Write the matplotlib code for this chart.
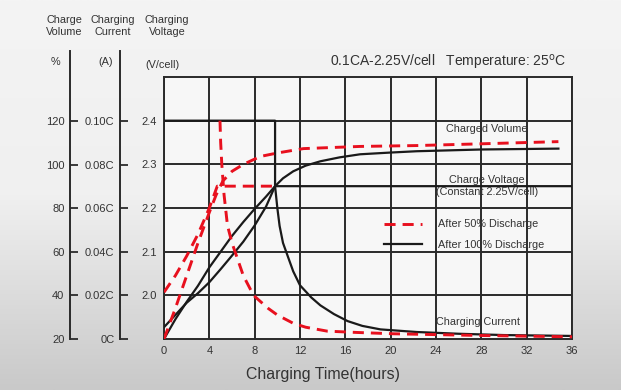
import numpy as np
import matplotlib
matplotlib.use("Agg")
import matplotlib.pyplot as plt
from matplotlib.lines import Line2D

plt.rcParams['font.family'] = ['Liberation Sans', 'DejaVu Sans']

# ---------------- data (voltage-axis units, V/cell) ----------------
hours_ticks = [0, 4, 8, 12, 16, 20, 24, 28, 32, 36]
volt_ticks = [2.0, 2.1, 2.2, 2.3, 2.4]
volume_ticks = [20, 40, 60, 80, 100, 120]
current_ticks = [0.0, 0.02, 0.04, 0.06, 0.08, 0.10]
current_labels = ["0C", "0.02C", "0.04C", "0.06C", "0.08C", "0.10C"]

# After 100% discharge (solid black)
vol100_t = [0, 1, 2, 3, 4, 5, 6, 7, 8, 9, 9.8, 10.5, 11.4, 12.5, 13.8, 15.5, 17.3,
            20, 22.3, 28, 34.8]
vol100_v = [1.90, 1.945, 1.985, 2.022, 2.064, 2.10, 2.136, 2.168, 2.198, 2.226, 2.25,
            2.268, 2.284, 2.297, 2.307, 2.316, 2.323, 2.327, 2.330, 2.334, 2.336]
volt100_t = [0, 1, 2, 3, 4, 5, 6, 7, 8, 9, 9.8, 36]
volt100_v = [1.927, 1.955, 1.983, 2.005, 2.03, 2.06, 2.091, 2.123, 2.160, 2.203, 2.25, 2.25]
cur100_t = [0, 9.8, 9.8, 10.0, 10.2, 10.5, 10.9, 11.4, 12.0, 13.0, 13.8, 15.0, 16.2,
            17.5, 19.1, 22.3, 26, 30, 36]
cur100_v = [2.4, 2.4, 2.25, 2.20, 2.159, 2.12, 2.091, 2.055, 2.023, 1.995, 1.977,
            1.957, 1.941, 1.930, 1.922, 1.916, 1.912, 1.909, 1.907]

# After 50% discharge (red dashed)
vol50_t = [0, 1, 2, 3, 4, 4.6, 5.2, 6, 7, 8.5, 10, 12.3, 17.3, 22.3, 28, 34.8]
vol50_v = [1.90, 1.97, 2.045, 2.12, 2.19, 2.23, 2.262, 2.284, 2.30, 2.318, 2.326,
           2.336, 2.341, 2.343, 2.347, 2.352]
volt50_t = [0, 1, 2, 3, 4, 4.7, 9.8]
volt50_v = [2.007, 2.045, 2.09, 2.14, 2.20, 2.25, 2.25]
cur50_t = [4.94, 5.0, 5.1, 5.3, 5.6, 6.0, 6.4, 7.0, 7.9, 8.5, 9.2, 10, 11.4, 12.5,
           14.4, 17, 20.2, 28, 36]
cur50_v = [2.4, 2.35, 2.3, 2.23, 2.16, 2.12, 2.09, 2.045, 2.0, 1.986, 1.97, 1.955,
           1.936, 1.927, 1.918, 1.915, 1.912, 1.908, 1.905]

# ---------------- figure ----------------
W, H = 621, 390
fig = plt.figure(figsize=(W / 100, H / 100), dpi=100)

# background gradient
bg = fig.add_axes([0, 0, 1, 1], zorder=-10)
grad = np.linspace(0, 1, 256)[:, None]
bg.imshow(grad, aspect='auto', cmap=matplotlib.colors.LinearSegmentedColormap.from_list(
    'g', ['#f4f4f4', '#f0f0f0', '#c9c9c9']), extent=[0, 1, 0, 1])
bg.axis('off')

def fx(px):
    return px / W

def fy(py):
    return (H - py) / H

# main axes
x0, x1, y_top, y_bot = 164, 572, 77, 339
ax = fig.add_axes([fx(x0), fy(y_bot), fx(x1) - fx(x0), fy(y_top) - fy(y_bot)])
ax.set_facecolor('#f7f7f7')
ax.set_xlim(0, 36)
ax.set_ylim(1.9, 2.5)
ax.set_xticks(hours_ticks)
ax.set_yticks(volt_ticks)
ax.set_xticklabels([str(h) for h in hours_ticks])
ax.set_yticklabels([f"{v:.1f}" for v in volt_ticks])
ax.tick_params(length=0, labelsize=8, colors='#333333', pad=5)
ax.grid(True, color='#2a2a2a', linewidth=1.4)
ax.set_axisbelow(True)
for s in ax.spines.values():
    s.set_color('#2a2a2a')
    s.set_linewidth(1.4)

red = '#e8101e'
blk = '#1a1a1a'
dash = (0, (3.8, 2.4))
ax.plot(vol100_t, vol100_v, color=blk, lw=1.6, zorder=3)
ax.plot(volt100_t, volt100_v, color=blk, lw=1.6, zorder=3)
ax.plot(cur100_t, cur100_v, color=blk, lw=1.6, zorder=3)
ax.plot(vol50_t, vol50_v, color=red, lw=2.1, ls=dash, zorder=4)
ax.plot(volt50_t, volt50_v, color=red, lw=2.1, ls=dash, zorder=4)
ax.plot(cur50_t, cur50_v, color=red, lw=2.1, ls=dash, zorder=4)

tc = '#333333'
afs = 7.8
ax.text(28.5, 2.38, "Charged Volume", fontsize=afs, color=tc, ha='center', va='center')
ax.text(28.5, 2.264, "Charge Voltage", fontsize=afs, color=tc, ha='center', va='center')
ax.text(28.5, 2.236, "(Constant 2.25V/cell)", fontsize=afs, color=tc, ha='center', va='center')
ax.text(27.7, 1.94, "Charging Current", fontsize=afs, color=tc, ha='center', va='center')

handles = [Line2D([], [], color=red, lw=2.1, ls=dash),
           Line2D([], [], color=blk, lw=1.6)]
ax.legend(handles, ["After 50% Discharge", "After 100% Discharge"],
          loc='upper left', bbox_to_anchor=((383 - x0) / (x1 - x0) - 0.008, (y_bot - 215) / (y_bot - y_top)),
          frameon=False, fontsize=afs, handlelength=3.5, handletextpad=1.45,
          labelspacing=0.95, labelcolor=tc, borderaxespad=0)

# left extra axes (charge volume, charging current)
top_px = 51

def side_axis(xpix, lo, hi_at_121, ticks, labels):
    a = fig.add_axes([fx(xpix), fy(y_bot), 0.001, fy(top_px) - fy(y_bot)])
    span = hi_at_121 - lo
    top_val = lo + span * (y_bot - top_px) / (y_bot - 121)
    a.set_ylim(lo, top_val)
    a.set_xticks([])
    a.set_yticks(ticks)
    a.set_yticklabels(labels)
    a.tick_params(axis='y', direction='in', length=6, width=1.3, color='#2a2a2a',
                  labelsize=8, labelcolor=tc, pad=4)
    for k in ['top', 'right', 'bottom']:
        a.spines[k].set_visible(False)
    a.spines['left'].set_color('#2a2a2a')
    a.spines['left'].set_linewidth(1.4)
    a.patch.set_alpha(0)
    return a

side_axis(70, 20, 120, volume_ticks, [str(v) for v in volume_ticks])
side_axis(120, 0.0, 0.10, current_ticks, current_labels)

# headers
hk = dict(fontsize=7.8, color=tc, ha='center', va='center', linespacing=1.15)
fig.text(fx(64), fy(26), "Charge\nVolume", **hk)
fig.text(fx(113), fy(26), "Charging\nCurrent", **hk)
fig.text(fx(167), fy(26), "Charging\nVoltage", **hk)
fig.text(fx(55), fy(62), "%", **hk)
fig.text(fx(106), fy(62), "(A)", **hk)
fig.text(fx(162), fy(65), "(V/cell)", **hk)

fig.text(fx(566), fy(62), r"0.1CA-2.25V/cell   Temperature: 25$^{\mathrm{o}}$C",
         fontsize=10, color=tc, ha='right', va='center')
fig.text(fx(323), fy(375), "Charging Time(hours)", fontsize=11.4, color=tc,
         ha='center', va='center')

fig.savefig("out.png", dpi=100)
